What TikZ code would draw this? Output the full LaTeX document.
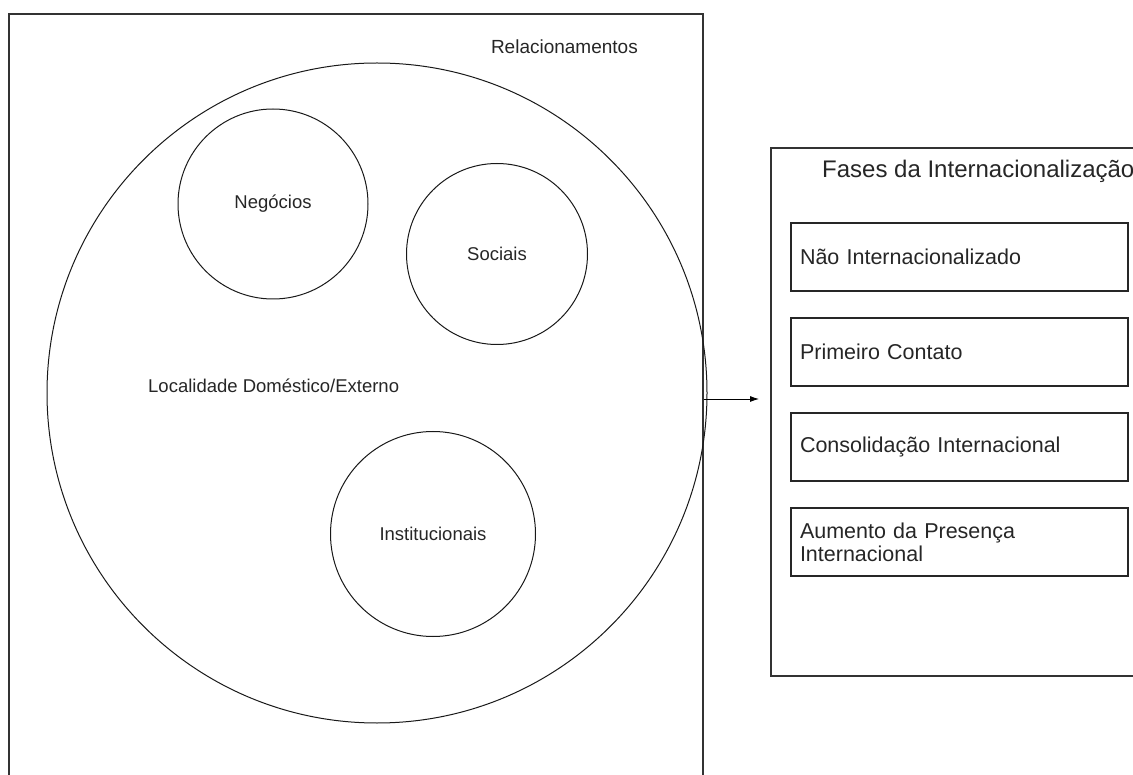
\documentclass[tikz,border=0pt]{standalone}
\usepackage{fontspec}
\setmainfont{Liberation Sans}
\usetikzlibrary{arrows.meta}
\begin{document}
\begin{tikzpicture}[x=1pt,y=-1pt,
  frame/.style={draw=black!80,line width=1.6pt,rectangle,inner sep=0pt},
  circ/.style={draw=black!90,line width=1pt,circle,inner sep=0pt,font=\fontsize{18.5}{22}\selectfont,text=black!85},
  phase/.style={draw=black!85,line width=1.2pt,rectangle,minimum width=337pt,minimum height=68pt,text width=319pt,inner sep=9pt,align=left,font=\fontsize{21.5}{23}\selectfont,text=black!85},
  lbl/.style={inner sep=0pt,text=black!85},
  arr/.style={-{Latex[length=9pt,width=6pt]},line width=0.8pt,draw=black}]
\useasboundingbox (0,0) rectangle (1133,775);
% left frame
\node[frame,minimum width=694pt,minimum height=766pt] (rel) at (356,397) {};
\node[lbl,anchor=east,font=\fontsize{19}{22}\selectfont] (reltxt) at (638,47) {Relacionamentos};
% circles
\node[circ,minimum size=660pt] (loc) at (377,393) {};
\node[lbl,anchor=west,font=\fontsize{18.5}{22}\selectfont] (loctxt) at (148,386) {Localidade Doméstico/Externo};
\node[circ,minimum size=190pt] (neg) at (273,204) {Negócios};
\node[circ,minimum size=181pt] (soc) at (497,254) {Sociais};
\node[circ,minimum size=205pt] (inst) at (433,534) {Institucionais};
% right frame
\node[frame,minimum width=365pt,minimum height=528pt] (fases) at (953.5,412) {};
\node[lbl,anchor=west,font=\fontsize{24}{26}\selectfont] (fasestxt) at (822,171) {Fases da Internacionalização};
\node[phase] (p1) at (959.5,257) {Não Internacionalizado};
\node[phase] (p2) at (959.5,352) {Primeiro Contato};
\node[phase] (p3) at (959.5,447) {Consolidação Internacional};
\node[phase] (p4) at (959.5,542) {Aumento da Presença\\Internacional};
% arrow
\coordinate (ay) at (0,399);
\coordinate (aend) at (759,399);
\draw[arr] (rel.east |- ay) -- (aend);
\end{tikzpicture}
\end{document}
